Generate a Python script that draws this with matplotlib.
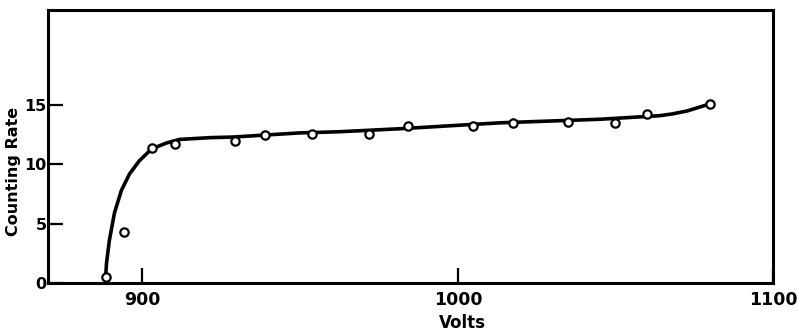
import matplotlib
matplotlib.use("Agg")
import matplotlib.pyplot as plt
import numpy as np

# measured points (volts, counting rate)
volts = [888.3, 894.0, 902.9, 910.2, 929.2, 938.7, 953.7, 971.7, 984.1,
         1004.8, 1017.5, 1034.9, 1049.8, 1060.0, 1080.0]
rate = [0.5, 4.3, 11.4, 11.7, 11.95, 12.5, 12.6, 12.6, 13.2,
        13.2, 13.5, 13.6, 13.5, 14.25, 15.1]

# hand-drawn fitted curve
curve_volts = [888.3, 888.6, 889.5, 891.1, 893.3, 895.9, 899.0, 902.9, 907.6,
               911.7, 921.3, 928.6, 949.8, 962.5, 981.6, 1013.3, 1045.0,
               1064.0, 1068.0, 1072.7, 1080.0]
curve_rate = [0.5, 1.7, 3.6, 5.9, 7.8, 9.2, 10.3, 11.3, 11.8,
              12.1, 12.25, 12.3, 12.65, 12.75, 13.0, 13.5, 13.8,
              14.1, 14.25, 14.5, 15.1]

x_ticks = [900, 1000, 1100]
y_ticks = [0, 5, 10, 15]

fig = plt.figure(figsize=(7.98, 3.35), dpi=100)
ax = fig.add_axes([0.060, 0.155, 0.909, 0.815])

ax.plot(curve_volts, curve_rate, color="black", lw=2.6, solid_capstyle="round",
        solid_joinstyle="round", zorder=2)
ax.plot(volts, rate, "o", ms=6, mfc="white", mec="black", mew=1.6, zorder=3)

ax.set_xlim(870, 1100)
ax.set_ylim(0, 23)
ax.set_xticks(x_ticks)
ax.set_yticks(y_ticks)
ax.set_xticklabels([str(t) for t in x_ticks], fontsize=12.5, fontweight="bold")
ax.set_yticklabels([str(t) for t in y_ticks], fontsize=11.5, fontweight="bold")
ax.tick_params(direction="in", length=11, width=1.6, pad=1)
ax.tick_params(axis="x", pad=6)
for s in ax.spines.values():
    s.set_linewidth(2.2)

ax.set_xlabel("Volts", fontsize=12, fontweight="bold")
ax.xaxis.set_label_coords(0.571, -0.115)
ax.set_ylabel("Counting Rate", fontsize=11.5, fontweight="bold")
ax.yaxis.set_label_coords(-0.037, 0.41)

fig.savefig("out.png", dpi=100)
